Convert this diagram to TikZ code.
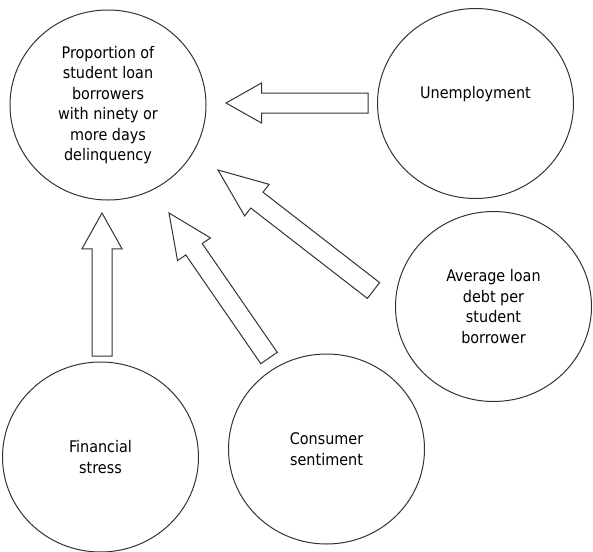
\documentclass[tikz,border=0pt]{standalone}
\usepackage{fontspec}
\setmainfont{DejaVu Sans Condensed}
\usetikzlibrary{shapes.geometric, calc}

\begin{document}
\begin{tikzpicture}[x=0.75pt, y=-0.75pt,
	bubble/.style={ellipse, draw=black!80, line width=0.75pt, minimum width=147pt, minimum height=142.5pt, inner sep=0pt, align=center, font=\fontsize{12}{15.3}\selectfont},
	blockarrow/.style={draw=black!80, line width=0.75pt, line join=miter}]
	\useasboundingbox (0,0) rectangle (593,551);
	\node[bubble] (delinq) at (108,105) {Proportion of\\ student loan\\ borrowers\\ with ninety or\\ more days\\ delinquency};
	\node[bubble, label={[font=\fontsize{12}{15.3}\selectfont, yshift=7pt]center:Unemployment}] (unemp) at (475.5,103.5) {};
	\node[bubble] (debt) at (493.5,306.5) {Average loan\\ debt per\\ student\\ borrower};
	\node[bubble] (stress) at (100.5,457) {Financial\\ stress};
	\node[bubble] (sentiment) at (326.5,449) {Consumer\\ sentiment};
	\coordinate (unemp-tail) at (368,103);
	\coordinate (unemp-tip) at (226,103);
	\coordinate (debt-tail) at (373.5,290.5);
	\coordinate (debt-tip) at (218,170);
	\coordinate (sentiment-tail) at (269,358);
	\coordinate (sentiment-tip) at (169,213);
	\coordinate (stress-tail) at (102,356);
	\coordinate (stress-tip) at (102,213);
	\foreach \tl/\hd in {unemp-tail/unemp-tip, debt-tail/debt-tip, sentiment-tail/sentiment-tip, stress-tail/stress-tip} {
		\coordinate (base) at ($(\hd)!0.25!(\tl)$);
		\draw[blockarrow] ($(\tl)!7.5pt!90:(\hd)$) -- ($(base)!7.5pt!90:(\hd)$) -- ($(base)!15pt!90:(\hd)$) -- (\hd)
			-- ($(base)!15pt!-90:(\hd)$) -- ($(base)!7.5pt!-90:(\hd)$) -- ($(\tl)!7.5pt!-90:(\hd)$) -- cycle;
	}
\end{tikzpicture}
\end{document}
